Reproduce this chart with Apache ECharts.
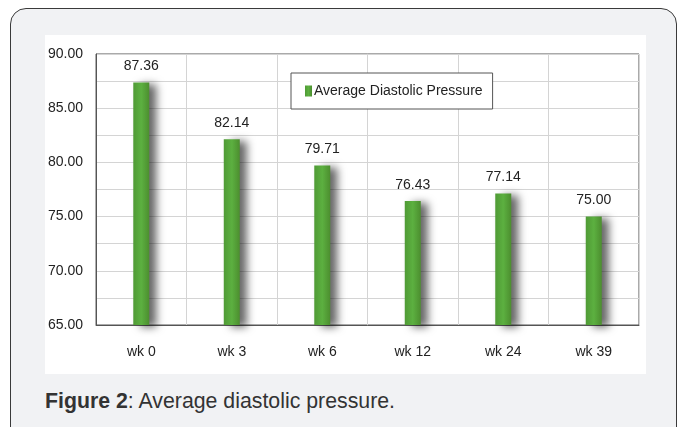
<!DOCTYPE html>
<html>
<head>
<meta charset="utf-8">
<script src="https://cdn.jsdelivr.net/npm/echarts@6/dist/echarts.min.js"></script>
<style>
html,body{margin:0;padding:0;background:#fff;width:683px;height:427px;overflow:hidden;}
#frame{position:absolute;left:10px;top:8px;width:665px;height:450px;border:1.5px solid #3a3a3a;border-radius:16px;background:#f1f2f4;}
#chart{position:absolute;left:45px;top:35px;width:601px;height:339px;background:#fff;}
#cap{position:absolute;left:45px;top:389px;font-family:"Liberation Sans",Arial,sans-serif;font-size:21.3px;color:#333;}
</style>
</head>
<body>
<div id="frame"></div>
<div id="chart"></div>
<div id="cap"><b>Figure 2</b>: Average diastolic pressure.</div>
<script>
const categories = ['wk 0', 'wk 3', 'wk 6', 'wk 12', 'wk 24', 'wk 39'];
const values = [87.36, 82.14, 79.71, 76.43, 77.14, 75.00];
const seriesName = 'Average Diastolic Pressure';
const yMin = 65, yMax = 90;

const narrow = '"Liberation Sans Narrow","Arial Narrow","Liberation Sans",sans-serif';
const chart = echarts.init(document.getElementById('chart'));
chart.setOption({
  animation: false,
  backgroundColor: '#fff',
  grid: {left: 50, right: 7, top: 19, bottom: 49, show: true, borderColor: '#555', borderWidth: 1, backgroundColor: 'transparent'},
  legend: {
    show: true, left: 246, top: 38, padding: [11, 10, 11, 14],
    backgroundColor: '#fff', borderColor: '#555', borderWidth: 1,
    itemWidth: 7, itemHeight: 11, itemGap: 2,
    icon: 'rect',
    textStyle: {fontFamily: narrow, fontSize: 14, color: '#222', padding: [0, 0, 0, -3]},
    data: [seriesName]
  },
  xAxis: {
    type: 'category', data: categories,
    axisLine: {show: true, lineStyle: {color: '#555'}},
    axisTick: {show: false},
    axisLabel: {fontFamily: narrow, fontSize: 14, color: '#222', margin: 20},
    splitLine: {show: true, lineStyle: {color: '#d4d4d4', width: 1}}
  },
  yAxis: {
    type: 'value', min: yMin, max: yMax, interval: 2.5,
    axisLine: {show: true, lineStyle: {color: '#555'}},
    axisTick: {show: false},
    axisLabel: {fontFamily: narrow, fontSize: 14, color: '#222', margin: 13,
      formatter: v => (Math.abs(v % 5) < 1e-6 ? v.toFixed(2) : '')},
    splitLine: {show: true, lineStyle: {color: '#d4d4d4', width: 1}}
  },
  series: [{
    name: seriesName, type: 'bar', data: values, barWidth: 16,
    itemStyle: {
      color: new echarts.graphic.LinearGradient(0, 0, 1, 0, [
        {offset: 0, color: '#4f9a35'}, {offset: 0.5, color: '#5cb040'}, {offset: 1, color: '#4c8e2f'}
      ]),
      shadowColor: 'rgba(0,0,0,0.6)', shadowBlur: 8, shadowOffsetX: 7, shadowOffsetY: 2
    },
    label: {show: true, position: 'top', distance: 9, fontFamily: narrow, fontSize: 14, color: '#222',
      formatter: p => p.value.toFixed(2)}
  }]
});
</script>
</body>
</html>
